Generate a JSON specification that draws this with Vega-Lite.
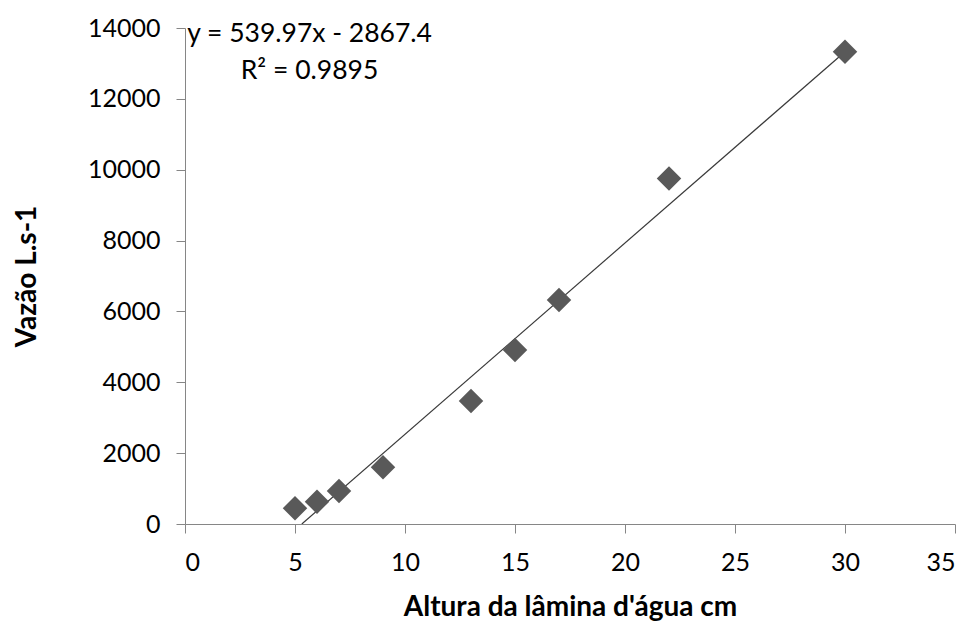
{
  "$schema": "https://vega.github.io/schema/vega-lite/v6.json",
  "width": 770,
  "height": 496,
  "autosize": {"type": "none"},
  "padding": {"left": 185, "top": 28, "right": 19, "bottom": 97},
  "background": "white",
  "config": {
    "view": {"stroke": null},
    "font": "Lato",
    "axis": {
      "grid": false,
      "domainColor": "#868686",
      "domainWidth": 1,
      "tickColor": "#868686",
      "tickWidth": 1,
      "tickSize": 9,
      "labelFont": "Lato",
      "labelFontSize": 25,
      "labelColor": "#000000",
      "titleFont": "Lato",
      "titleFontSize": 28,
      "titleFontWeight": "bold",
      "titleColor": "#000000"
    }
  },
  "datasets": {
    "medicoes": [
      {"altura": 5, "vazao": 445},
      {"altura": 6, "vazao": 630},
      {"altura": 7, "vazao": 930},
      {"altura": 9, "vazao": 1600},
      {"altura": 13, "vazao": 3470},
      {"altura": 15, "vazao": 4910},
      {"altura": 17, "vazao": 6320},
      {"altura": 22, "vazao": 9750},
      {"altura": 30, "vazao": 13330}
    ],
    "tendencia": [
      {"altura": 5.3103, "vazao": 0},
      {"altura": 30, "vazao": 13331.7}
    ],
    "rotulos": [
      {"altura": 0.1, "vazao": 13840, "texto": "y = 539.97x - 2867.4", "alinhamento": "left"},
      {"altura": 5.66, "vazao": 12800, "texto": "R² = 0.9895", "alinhamento": "center"}
    ]
  },
  "layer": [
    {
      "data": {"name": "tendencia"},
      "mark": {"type": "line", "color": "#3a3a3a", "strokeWidth": 1.2, "clip": true},
      "encoding": {
        "x": {"field": "altura", "type": "quantitative",
              "scale": {"domain": [0, 35], "nice": false},
              "axis": {"values": [0, 5, 10, 15, 20, 25, 30, 35], "format": "d", "labelPadding": 17, "title": "Altura da lâmina d'água cm", "titlePadding": 18}},
        "y": {"field": "vazao", "type": "quantitative",
              "scale": {"domain": [0, 14000], "nice": false},
              "axis": {"values": [0, 2000, 4000, 6000, 8000, 10000, 12000, 14000], "format": "d", "labelPadding": 16, "title": "Vazão L.s-1", "titlePadding": 46}}
      }
    },
    {
      "data": {"name": "medicoes"},
      "mark": {"type": "point", "shape": "diamond", "filled": true, "size": 600, "color": "#595959", "opacity": 1},
      "encoding": {
        "x": {"field": "altura", "type": "quantitative"},
        "y": {"field": "vazao", "type": "quantitative"}
      }
    },
    {
      "data": {"name": "rotulos"},
      "transform": [{"filter": "datum.alinhamento == 'left'"}],
      "mark": {"type": "text", "align": "left", "baseline": "middle", "fontSize": 26.5, "color": "#000000"},
      "encoding": {
        "x": {"field": "altura", "type": "quantitative"},
        "y": {"field": "vazao", "type": "quantitative"},
        "text": {"field": "texto"}
      }
    },
    {
      "data": {"name": "rotulos"},
      "transform": [{"filter": "datum.alinhamento == 'center'"}],
      "mark": {"type": "text", "align": "center", "baseline": "middle", "fontSize": 26.5, "color": "#000000"},
      "encoding": {
        "x": {"field": "altura", "type": "quantitative"},
        "y": {"field": "vazao", "type": "quantitative"},
        "text": {"field": "texto"}
      }
    }
  ]
}
